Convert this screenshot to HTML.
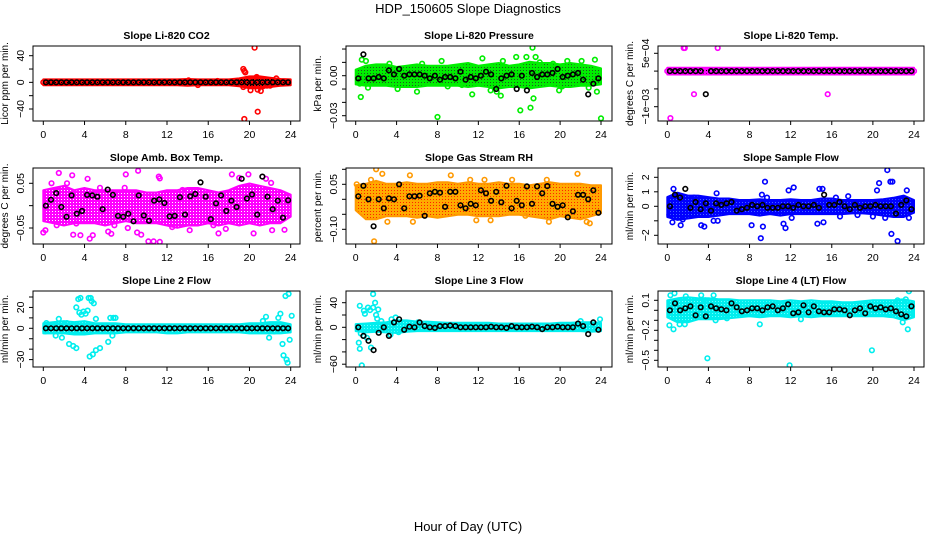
<!DOCTYPE html>
<html><head><meta charset="utf-8"><style>
html,body{margin:0;padding:0;background:#fff;}
svg{display:block;font-family:"Liberation Sans",Arial,sans-serif;}
</style></head><body>
<svg id="chart" width="936" height="540" viewBox="0 0 936 540">
<text x="468" y="13" text-anchor="middle" font-size="13">HDP_150605  Slope Diagnostics</text>
<text x="468" y="531" text-anchor="middle" font-size="13">Hour of Day (UTC)</text>
</svg>
<script>
const xTicks=[0,4,8,12,16,20,24];
const bandHours=[0,1,2,3,4,5,6,7,8,9,10,11,12,13,14,15,16,17,18,19,20,21,22,23,24];

const co2Hi=[1.5,1.5,1.5,1.5,1.5,1.5,1.5,1.5,1.5,1.5,1.5,1.5,1.5,1.5,2,1.5,1.5,1.5,1.5,3,6,6,4,2,1.5];
const co2Lo=[-1.5,-1.5,-1.5,-1.5,-1.5,-1.5,-1.5,-1.5,-1.5,-1.5,-1.5,-1.5,-1.5,-1.5,-2,-1.5,-1.5,-1.5,-1.5,-3,-6,-6,-4,-2,-1.5];
const co2Pts=[[19.4,20],[19.5,17],[19.6,15],[19.5,-55],[20.5,52],[20.8,-44],[19.4,-7],[20.1,-12],[21.1,-13],[20.8,-11],[20.7,8],[21.5,4],[22.6,6],[20.3,5],[14.1,3],[15,-4],[21.7,-5],[22.2,-3],[13.3,1],[16.9,2],[21.3,-6],[22,-5],[0,0]];
const co2Black=[0,0,0,0,0,0,0,0,0,0,0,0,0,0,0,0,0,0,0,0,0,0,0,0,0,0,0,0,0,0,0,0,0,0,0,0,0,0,0,0,0,0,0,0,0,0,0,0];

const presHi=[0.003,0.006,0.007,0.007,0.005,0.006,0.007,0.006,0.006,0.006,0.007,0.008,0.006,0.007,0.008,0.006,0.007,0.009,0.008,0.008,0.007,0.008,0.007,0.006,0.004];
const presLo=[-0.005,-0.006,-0.006,-0.006,-0.007,-0.007,-0.007,-0.006,-0.006,-0.006,-0.006,-0.007,-0.006,-0.007,-0.008,-0.007,-0.007,-0.008,-0.007,-0.006,-0.007,-0.007,-0.006,-0.006,-0.005];
const presPts=[[0.5,-0.016],[0.6,0.012],[1.0,0.011],[1.2,-0.009],[0.4,-0.006],[4.1,-0.01],[6.0,-0.012],[8.0,-0.031],[8.4,0.011],[10.4,-0.007],[11.4,-0.014],[12.4,0.013],[13.2,-0.011],[13.8,-0.012],[14.2,-0.015],[14.4,0.011],[15.7,0.014],[16.1,-0.026],[16.7,0.014],[17.3,0.021],[17.1,-0.024],[17.4,-0.017],[17.6,0.014],[19.9,-0.011],[20.2,-0.008],[20.7,0.011],[22.1,0.011],[23.6,-0.012],[24.0,-0.032],[22.8,-0.009],[23.4,0.012],[3.3,0.009],[6.5,0.009],[9.0,-0.008],[18.0,0.010],[19.3,0.009]];
const presBlack=[-0.002,0.016,-0.002,-0.002,-0.001,-0.002,0.004,0.001,0.005,0,0.001,0.001,0.001,0,-0.002,0,-0.003,-0.001,-0.001,-0.002,0.003,-0.003,-0.001,-0.002,0,0.003,0.001,-0.010,-0.002,0,0.001,-0.010,0,-0.011,0.002,-0.001,0.001,0.001,0.002,0.005,-0.001,0,0.001,0.002,-0.003,-0.014,-0.006,-0.002];

const tempHi=[0.00004,0.00004,0.00004,0.00004,0.00004,0.00004,0.00004,0.00004,0.00004,0.00004,0.00004,0.00004,0.00004,0.00004,0.00004,0.00004,0.00004,0.00004,0.00004,0.00004,0.00004,0.00004,0.00004,0.00004,0.00004];
const tempLo=[-0.00004,-0.00004,-0.00004,-0.00004,-0.00004,-0.00004,-0.00004,-0.00004,-0.00004,-0.00004,-0.00004,-0.00004,-0.00004,-0.00004,-0.00004,-0.00004,-0.00004,-0.00004,-0.00004,-0.00004,-0.00004,-0.00004,-0.00004,-0.00004,-0.00004];
const tempPts=[[1.6,0.00065],[1.7,0.00065],[4.9,0.00065],[2.6,-0.00065],[15.6,-0.00065],[0.3,-0.00132],[0,0],[24,0]];
const tempBlack=[0,0,0,0,0,0,0,-0.00065,0,0,0,0,0,0,0,0,0,0,0,0,0,0,0,0,0,0,0,0,0,0,0,0,0,0,0,0,0,0,0,0,0,0,0,0,0,0,0,0];

const ambHi=[0.03,0.035,0.04,0.03,0.035,0.03,0.03,0.03,0.03,0.03,0.025,0.025,0.03,0.03,0.035,0.035,0.03,0.025,0.03,0.04,0.045,0.04,0.035,0.03,0.02];
const ambLo=[-0.03,-0.035,-0.04,-0.035,-0.035,-0.035,-0.04,-0.035,-0.03,-0.035,-0.035,-0.035,-0.04,-0.045,-0.04,-0.04,-0.035,-0.04,-0.035,-0.04,-0.035,-0.04,-0.035,-0.035,-0.02];
const ambPts=[[1.5,0.073],[2.8,0.068],[4.3,0.06],[8,0.07],[9.2,0.078],[11.2,0.065],[11.3,0.061],[0,-0.06],[0.2,-0.055],[2.9,-0.065],[3.6,-0.066],[4.5,-0.074],[4.8,-0.066],[6.3,-0.058],[6.6,-0.063],[8.2,-0.05],[9.1,-0.06],[9.5,-0.065],[10.2,-0.08],[10.7,-0.08],[11.3,-0.081],[12.5,-0.048],[14.2,-0.055],[16.5,-0.044],[17,-0.062],[17.7,-0.052],[19,0.062],[19.9,0.07],[20.4,-0.062],[21.6,0.06],[22.1,0.051],[22.2,-0.055],[23.4,-0.054],[6.9,-0.044],[13.5,0.035],[18.3,0.07],[0.8,0.05],[1.3,-0.044],[3.2,-0.04],[5.5,0.04],[7.9,0.04],[2.3,0.05]];
const ambBlack=[0,0.013,0.028,-0.003,-0.025,0.023,-0.018,-0.012,0.024,0.023,0.02,-0.008,0.036,0.024,-0.023,-0.025,-0.018,-0.035,0.023,-0.022,-0.034,0.011,0.014,0.006,-0.024,-0.023,0.019,-0.02,0.021,0.026,0.052,0.02,-0.03,0.005,0.023,-0.012,0.011,-0.003,0.06,0.016,0.025,-0.02,0.065,0.02,-0.008,0.011,-0.027,0.012];

const rhHi=[0.04,0.045,0.055,0.045,0.045,0.05,0.045,0.045,0.05,0.05,0.045,0.05,0.045,0.045,0.05,0.045,0.045,0.04,0.045,0.05,0.045,0.045,0.045,0.04,0.04];
const rhLo=[-0.03,-0.06,-0.06,-0.05,-0.05,-0.05,-0.055,-0.05,-0.055,-0.05,-0.045,-0.045,-0.05,-0.05,-0.05,-0.045,-0.045,-0.05,-0.055,-0.06,-0.05,-0.055,-0.06,-0.05,-0.04];
const rhPts=[[1.8,-0.14],[2,0.1],[2.6,0.085],[3.1,-0.075],[5.3,0.08],[5.6,-0.075],[9.3,0.08],[11.8,-0.07],[12.6,0.065],[13.2,-0.07],[15.3,0.065],[18.7,0.065],[18.9,-0.075],[21.7,0.085],[22.6,-0.075],[22.9,-0.08],[1.5,0.065],[0.1,0.05],[16.6,-0.055],[11.2,0.065]];
const rhBlack=[0.01,0.045,0.0,-0.09,0.0,-0.03,0.003,0.0,0.05,-0.03,0.01,0.01,0.012,-0.055,0.02,0.025,0.022,-0.025,0.025,0.025,-0.02,-0.03,-0.015,-0.02,0.03,0.02,-0.005,0.025,-0.01,0.045,-0.03,-0.005,-0.02,0.043,-0.015,0.043,0.02,0.044,-0.015,-0.025,-0.02,-0.06,-0.04,0.015,0.015,0.0,0.03,-0.045];

const flowHi=[0.5,0.8,0.6,0.6,0.5,0.4,0.4,0.3,0.3,0.35,0.3,0.3,0.35,0.3,0.3,0.4,0.4,0.3,0.3,0.3,0.3,0.35,0.45,0.6,0.3];
const flowLo=[-0.6,-0.8,-0.7,-0.6,-0.6,-0.5,-0.4,-0.4,-0.4,-0.5,-0.4,-0.5,-0.4,-0.4,-0.4,-0.4,-0.4,-0.4,-0.35,-0.35,-0.4,-0.5,-0.6,-0.6,-0.3];
const flowPts=[[0.2,-0.6],[0.5,-1.1],[0.6,1.2],[1.3,-1.3],[1.5,-0.9],[2.6,0.6],[3.3,-1.3],[3.6,-1.4],[4.5,-1],[4.9,-1],[4.8,0.9],[8.2,-1.3],[9.1,-2.2],[9.3,-1.4],[9.2,0.8],[9.5,1.7],[9.7,0.6],[11.3,-1.2],[11.5,-1.5],[11.8,1.1],[12.3,1.3],[12.1,-0.8],[14.8,1.2],[15.1,1.2],[14.6,-1.2],[15.2,-1.1],[16.4,0.6],[17.6,0.7],[16.8,-0.7],[18.5,-0.6],[20,-0.7],[20.4,1.1],[20.6,1.6],[21.2,-0.8],[21.4,2.5],[21.7,1.7],[21.9,1.7],[21.8,-1.9],[22.4,-2.4],[23.3,1.1],[23.5,-0.8],[22.8,0.5]];
const flowBlack=[0,0.8,0.6,1.2,-0.1,0.3,-0.2,0.2,-0.3,0.2,0.1,0.2,0.3,-0.3,-0.2,-0.1,0.1,0.0,0.1,-0.1,-0.1,-0.1,0.0,0.0,-0.1,0.1,0.0,0.0,0.1,-0.1,0.8,0.1,0.1,0.3,0.0,-0.2,0.1,-0.1,0.0,0.0,0.1,0.0,0.0,0.0,-0.5,0.1,0.4,-0.2];

const l2Hi=[3,4,5,4,5,3,3,3,2,2,2,2,2,2,2,2,2,2,2,2,3,3,4,4,2];
const l2Lo=[-3,-3,-3,-4,-4,-3,-3,-3,-2,-2,-2,-2,-3,-3,-2,-2,-2,-2,-2,-2,-3,-3,-3,-3,-2];
const l2Pts=[[1.2,-7],[1.8,-9],[1.5,9],[2.3,5],[2.5,-15],[2.9,-17],[3.2,-19],[3.2,20],[3.4,28],[3.6,29],[3.5,15],[3.9,16],[4.3,17],[4.4,29],[4.6,29],[4.7,26],[4.9,24],[4.5,-27],[4.8,-25],[5.1,-21],[5.5,-19],[5.1,9],[6.3,-13],[6.5,10],[6.8,10],[7.0,10],[6.7,-7],[21.3,7],[21.6,11],[21.9,-9],[22.4,-3],[22.8,10],[23,14],[23.2,-15],[23.3,-26],[23.6,-30],[23.7,-33],[23.5,31],[23.8,33],[23.9,-11],[24.1,12],[3.7,13],[4.1,14],[0.3,5],[0.2,-3]];
const l2Black=[0,0,0,0,0,0,0,0,0,0,0,0,0,0,0,0,0,0,0,0,0,0,0,0,0,0,0,0,0,0,0,0,0,0,0,0,0,0,0,0,0,0,0,0,0,0,0,0];

const l3Hi=[2,3,4,5,8,8,6,6,5,4,4,4,4,4,3,3,3,3,3,3,4,4,5,5,4];
const l3Lo=[-3,-5,-4,-5,-6,-4,-3,-3,-3,-3,-3,-3,-3,-3,-3,-3,-3,-3,-3,-3,-3,-3,-3,-4,-3];
const l3Pts=[[0.3,-25],[0.4,-35],[0.6,-62],[0.4,35],[0.8,27],[0.9,22],[1.2,32],[1.4,28],[1.7,32],[1.7,54],[1.9,40],[2.0,20],[2.2,29],[2.1,14],[2.5,10],[1.5,-33],[0.8,-14],[1.1,-17],[3.4,-12],[3.5,13],[3.9,16],[6.1,8],[23.9,13],[22.0,10],[4.2,-8],[0.5,-10]];
const l3Black=[0,-14,-22,-37,-9,0,-14,8,13,-4,1,0,8,2,0,-1,2,2,3,2,0,0,0,0,0,0,1,0,0,-1,2,0,0,0,1,0,-3,0,0,1,0,0,0,6,2,-11,8,-4];

const l4Hi=[0.08,0.1,0.11,0.1,0.1,0.09,0.09,0.08,0.08,0.08,0.08,0.07,0.08,0.07,0.08,0.07,0.07,0.06,0.06,0.07,0.08,0.08,0.08,0.09,0.07];
const l4Lo=[-0.05,-0.1,-0.1,-0.07,-0.07,-0.07,-0.06,-0.05,-0.04,-0.05,-0.04,-0.04,-0.05,-0.04,-0.05,-0.04,-0.04,-0.04,-0.04,-0.04,-0.04,-0.04,-0.05,-0.08,-0.05];
const l4Pts=[[0.2,-0.15],[0.3,0.15],[0.7,0.17],[0.6,-0.19],[1.2,-0.14],[1.8,0.14],[1.7,-0.14],[3.9,-0.48],[4.5,0.15],[4.7,-0.1],[5.8,-0.08],[9.0,-0.14],[11.9,-0.55],[13.0,-0.09],[19.9,-0.4],[22.4,0.1],[22.9,-0.12],[23.2,0.11],[23.5,0.19],[23.4,-0.19],[23.6,-0.06],[3.3,0.15],[3.7,0.1]];
const l4Black=[0,0.07,0,0.02,0.04,-0.05,0.03,-0.06,0.04,0.02,0.01,0.0,0.07,0.03,-0.01,0.0,0.02,0.02,0.0,0.03,0.04,0.0,0.02,0.06,-0.03,-0.02,0.05,-0.02,0.04,-0.01,-0.02,-0.02,0.01,0.01,0.0,-0.05,0.0,0.02,-0.03,0.04,0.02,0.03,0.01,0.02,-0.01,-0.04,-0.06,0.04];

const NS='http://www.w3.org/2000/svg';
const svg=document.getElementById('chart');
function mk(tag,attrs,parent){const e=document.createElementNS(NS,tag);for(const k in attrs)e.setAttribute(k,attrs[k]);(parent||svg).appendChild(e);return e;}
const defs=mk('defs',{});

const cols=[{l:33,r:300,x0:43.3,x24:290.7},{l:346,r:612,x0:355.7,x24:601},{l:658,r:924,x0:667.3,x24:914}];
const rows=[{t:46,b:121},{t:168,b:244},{t:291,b:367}];

const panels=[
 {title:'Slope Li-820 CO2',ylab:'Licor ppm per min.',c:0,r:0,col:'#ff0000',fill:'#ff0000',dot:'#000',hi:co2Hi,lo:co2Lo,pts:co2Pts,blk:co2Black,ya:40,yaPx:55.7,yb:-40,ybPx:109,ticks:[-40,-20,0,20,40],labels:['−40','0','40'],lv:[-40,0,40]},
 {title:'Slope Li-820 Pressure',ylab:'kPa per min.',c:1,r:0,col:'#00ee00',fill:'#00ee00',dot:'#225522',hi:presHi,lo:presLo,pts:presPts,blk:presBlack,ya:0,yaPx:75.7,yb:-0.03,ybPx:115.7,ticks:[-0.03,-0.02,-0.01,0,0.01,0.02],labels:['−0.03','0.00'],lv:[-0.03,0]},
 {title:'Slope Li-820 Temp.',ylab:'degrees C per min.',c:2,r:0,col:'#ff00ff',fill:'#ff00ff',dot:'#000',hi:tempHi,lo:tempLo,pts:tempPts,blk:tempBlack,ya:0.0005,yaPx:53.3,yb:-0.001,ybPx:106.7,ticks:[-0.001,-0.0005,0,0.0005],labels:['−1e−03','5e−04'],lv:[-0.001,0.0005]},
 {title:'Slope Amb. Box Temp.',ylab:'degrees C per min.',c:0,r:1,col:'#ff00ff',fill:'#ff00ff',dot:'#ffffff',hi:ambHi,lo:ambLo,pts:ambPts,blk:ambBlack,ya:0.05,yaPx:183.3,yb:-0.05,ybPx:228,ticks:[-0.05,0,0.05],labels:['−0.05','0.05'],lv:[-0.05,0.05]},
 {title:'Slope Gas Stream RH',ylab:'percent per min.',c:1,r:1,col:'#ff9900',fill:'#ffaa00',dot:'#ff2200',hi:rhHi,lo:rhLo,pts:rhPts,blk:rhBlack,ya:0.05,yaPx:184.3,yb:-0.1,ybPx:229.3,ticks:[-0.1,-0.05,0,0.05,0.1],labels:['−0.10','0.05'],lv:[-0.1,0.05]},
 {title:'Slope Sample Flow',ylab:'ml/min per min.',c:2,r:1,col:'#0000ff',fill:'#0000ff',dot:'#4466ff',hi:flowHi,lo:flowLo,pts:flowPts,blk:flowBlack,ya:2,yaPx:177.3,yb:-2,ybPx:235.3,ticks:[-2,-1,0,1,2],labels:['−2','0','1','2'],lv:[-2,0,1,2]},
 {title:'Slope Line 2 Flow',ylab:'ml/min per min.',c:0,r:2,col:'#00eeee',fill:'#00eeee',dot:'#66ffff',hi:l2Hi,lo:l2Lo,pts:l2Pts,blk:l2Black,ya:30,yaPx:297,yb:0,ybPx:328.3,ticks:[-30,-20,-10,0,10,20,30],labels:['−30','0','20'],lv:[-30,0,20]},
 {title:'Slope Line 3 Flow',ylab:'ml/min per min.',c:1,r:2,col:'#00eeee',fill:'#00eeee',dot:'#66ffff',hi:l3Hi,lo:l3Lo,pts:l3Pts,blk:l3Black,ya:40,yaPx:302.7,yb:0,ybPx:327.3,ticks:[-60,-40,-20,0,20,40],labels:['−60','0','40'],lv:[-60,0,40]},
 {title:'Slope Line 4 (LT) Flow',ylab:'ml/min per min.',c:2,r:2,col:'#00eeee',fill:'#00eeee',dot:'#66ffff',hi:l4Hi,lo:l4Lo,pts:l4Pts,blk:l4Black,ya:0.1,yaPx:300.3,yb:0,ybPx:310.3,ticks:[-0.5,-0.4,-0.3,-0.2,-0.1,0,0.1],labels:['−0.5','−0.2','0.1'],lv:[-0.5,-0.2,0.1]}
];

panels.forEach((p,pi)=>{
 const C=cols[p.c],R=rows[p.r];
 const pat=mk('pattern',{id:'pat'+pi,width:3,height:3,patternUnits:'userSpaceOnUse'},defs);
 mk('rect',{x:0,y:0,width:3,height:3,fill:p.fill},pat);
 mk('rect',{x:1,y:1,width:1,height:1,fill:p.dot},pat);
 const g=mk('g',{});
 
 
 const xs=h=>C.x0+(C.x24-C.x0)*h/24;
 const ys=v=>p.yaPx+(p.ybPx-p.yaPx)*(v-p.ya)/(p.yb-p.ya);
 const cp=mk('clipPath',{id:'cp'+pi},defs);
 mk('rect',{x:C.l,y:R.t,width:C.r-C.l,height:R.b-R.t},cp);
 const pg=mk('g',{'clip-path':'url(#cp'+pi+')'},g);
 let d='';
 bandHours.forEach((h,i)=>{d+=(i?'L':'M')+xs(h).toFixed(1)+','+(ys(p.hi[i])-2).toFixed(1);});
 for(let i=bandHours.length-1;i>=0;i--){d+='L'+xs(bandHours[i]).toFixed(1)+','+(ys(p.lo[i])+2).toFixed(1);}
 const band=mk('path',{d:d+'Z',fill:'url(#pat'+pi+')',stroke:p.col,'stroke-width':2,'stroke-linejoin':'round'},pg);
 
 
 p.pts.forEach(pt=>{
  const c=mk('circle',{cx:xs(pt[0]).toFixed(1),cy:ys(pt[1]).toFixed(1),r:2.3,fill:'none',stroke:p.col,'stroke-width':1.6},pg);
  
  
 });
 p.blk.forEach((v,i)=>{
  const c=mk('circle',{cx:xs(0.25+0.5*i).toFixed(1),cy:ys(v).toFixed(1),r:2.3,fill:'none',stroke:'#000','stroke-width':1.6},pg);
  
  
 });
 const box=mk('rect',{x:C.l,y:R.t,width:C.r-C.l,height:R.b-R.t,fill:'none',stroke:'#000','stroke-width':1},g);
 
 
 const t=mk('text',{x:(C.l+C.r)/2,y:R.t-7,'text-anchor':'middle','font-size':10.5,'font-weight':'bold'},g);
 t.textContent=p.title;
 
 
 xTicks.forEach(v=>{
  const x=xs(v);
  mk('line',{x1:x,x2:x,y1:R.b,y2:R.b+4,stroke:'#000'},g);
  const tl=mk('text',{x:x,y:R.b+17,'text-anchor':'middle','font-size':10.5},g);
  tl.textContent=v;
  
  
 });
 p.ticks.forEach(v=>{const y=ys(v);mk('line',{x1:C.l-4,x2:C.l,y1:y,y2:y,stroke:'#000'},g);});
 p.lv.forEach((v,i)=>{
  const y=ys(v),x=C.l-9;
  const tl=mk('text',{x:x,y:y,'text-anchor':'middle','font-size':10.5,transform:'rotate(-90 '+x+' '+y+')'},g);
  tl.textContent=p.labels[i];
  
  
 });
 const yx=C.l-25,yy=(R.t+R.b)/2;
 const yl=mk('text',{x:yx,y:yy,'text-anchor':'middle','font-size':10,transform:'rotate(-90 '+yx+' '+yy+')'},g);
 yl.textContent=p.ylab;
 
 
});
</script>
</body></html>
